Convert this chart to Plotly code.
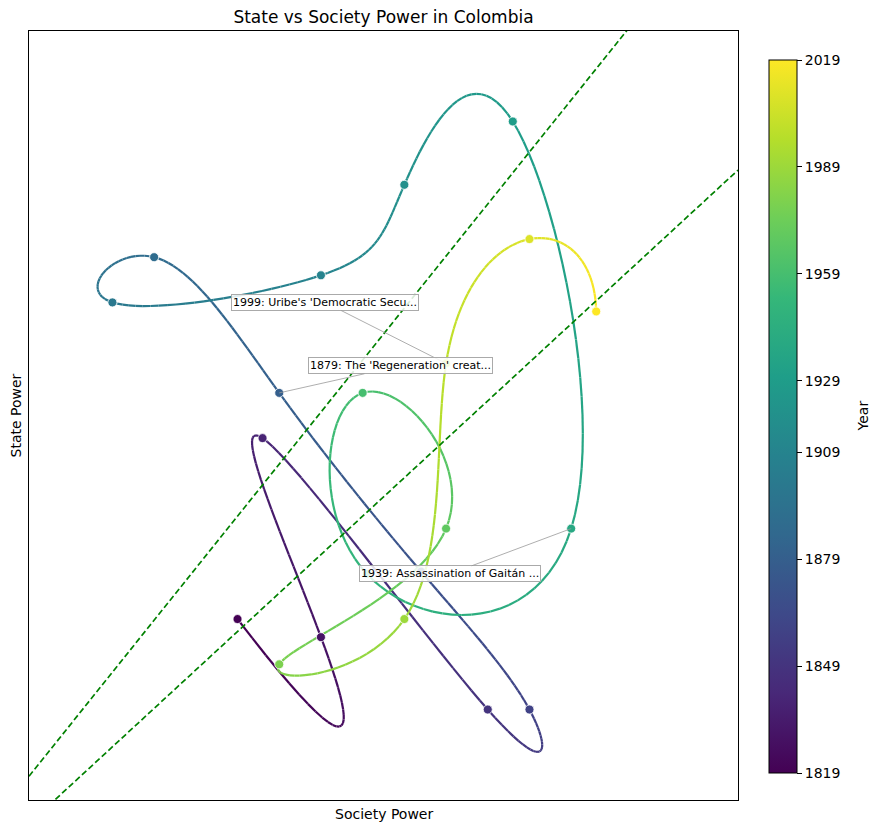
import numpy as np
import plotly.graph_objects as go
from plotly.colors import sample_colorscale

# ---- data ----
years = [1819, 1829, 1839, 1849, 1859, 1869, 1879, 1889, 1899, 1909, 1919,
         1929, 1939, 1949, 1959, 1969, 1979, 1989, 1999, 2009, 2019]
society_power = [8.5, 10.5, 9.1, 14.5, 15.5, 12.9, 9.5, 6.5, 5.5, 10.5, 12.5,
                 15.1, 16.5, 11.6, 11.5, 13.5, 9.5, 12.5, 13.5, 15.5, 17.1]
state_power = [7.5, 7.1, 11.5, 5.5, 5.5, 8.55, 12.5, 15.5, 14.5, 15.1, 17.1,
               18.5, 9.5, 8.5, 12.5, 9.5, 6.5, 7.5, 13.15, 15.9, 14.3]
event_years = [1999, 1879, 1939]
event_labels = ["1999: Uribe's 'Democratic Secu...",
                "1879: The 'Regeneration' creat...",
                "1939: Assassination of Gaitán ..."]
label_society = [10.6, 12.4, 13.6]
label_state = [14.5, 13.1, 8.5]
corridor_slopes = [1.15, 0.85]
colorbar_ticks = [1819, 1849, 1879, 1909, 1929, 1959, 1989, 2019]
axis_range = [3.5, 20.5]


def spline_eval(t, y, tq):
    """not-a-knot cubic spline through (t, y), evaluated at tq"""
    t = np.asarray(t, float)
    y = np.asarray(y, float)
    tq = np.asarray(tq, float)
    n = len(t)
    h = np.diff(t)
    A = np.zeros((n, n))
    r = np.zeros(n)
    A[0, 0], A[0, 1], A[0, 2] = h[1], -(h[0] + h[1]), h[0]
    A[-1, -3], A[-1, -2], A[-1, -1] = h[-1], -(h[-2] + h[-1]), h[-2]
    for i in range(1, n - 1):
        A[i, i - 1] = h[i - 1]
        A[i, i] = 2 * (h[i - 1] + h[i])
        A[i, i + 1] = h[i]
        r[i] = 6 * ((y[i + 1] - y[i]) / h[i] - (y[i] - y[i - 1]) / h[i - 1])
    M = np.linalg.solve(A, r)
    idx = np.clip(np.searchsorted(t, tq, side="right") - 1, 0, n - 2)
    t0, t1 = t[idx], t[idx + 1]
    hh = t1 - t0
    a = t1 - tq
    b = tq - t0
    return ((M[idx] * a ** 3 + M[idx + 1] * b ** 3) / (6 * hh)
            + (y[idx] / hh - M[idx] * hh / 6) * a
            + (y[idx + 1] / hh - M[idx + 1] * hh / 6) * b)


ymin, ymax = years[0], years[-1]
tt = np.linspace(ymin, ymax, 501)
cx = spline_eval(years, society_power, tt)
cy = spline_eval(years, state_power, tt)
tmid = (tt[:-1] + tt[1:]) / 2
seg_colors = sample_colorscale("Viridis", list((tmid - ymin) / (ymax - ymin)))

fig = go.Figure()
for i in range(len(tt) - 1):
    fig.add_trace(go.Scatter(x=[cx[i], cx[i + 1]], y=[cy[i], cy[i + 1]],
                             mode="lines", line=dict(color=seg_colors[i], width=2.2),
                             hoverinfo="skip", showlegend=False))

# corridor lines
for s in corridor_slopes:
    fig.add_trace(go.Scatter(x=axis_range, y=[s * v for v in axis_range], mode="lines",
                             line=dict(color="#008000", width=1.7, dash="6px,3px"),
                             hoverinfo="skip", showlegend=False))

fig.add_trace(go.Scatter(
    x=society_power, y=state_power, mode="markers",
    marker=dict(size=9, color=years, colorscale="Viridis", cmin=ymin, cmax=ymax,
                line=dict(color="white", width=0.8),
                colorbar=dict(tickvals=colorbar_ticks, ticktext=[str(v) for v in colorbar_ticks],
                              ticks="outside", ticklen=5, tickcolor="black",
                              tickfont=dict(size=14, color="black"),
                              outlinewidth=1, outlinecolor="black",
                              thickness=28, thicknessmode="pixels",
                              len=713 / 769, lenmode="fraction",
                              x=(769 - 29) / 709, xanchor="left", xpad=0,
                              y=(800 - 416.5) / 769, yanchor="middle", ypad=0)),
    showlegend=False, hoverinfo="skip"))

ex = spline_eval(years, society_power, event_years)
ey = spline_eval(years, state_power, event_years)
annotations = []
for i, lab in enumerate(event_labels):
    annotations.append(dict(
        x=float(ex[i]), y=float(ey[i]), xref="x", yref="y",
        ax=label_society[i], ay=label_state[i], axref="x", ayref="y",
        text=lab, showarrow=True, arrowhead=0, arrowwidth=0.8, arrowcolor="#999999",
        font=dict(size=11, color="black", family="DejaVu Sans"),
        bgcolor="rgba(255,255,255,0.85)", bordercolor="#aaaaaa", borderwidth=1, borderpad=1))

annotations.append(dict(text="Society Power", x=0.5, y=0, xref="paper", yref="paper",
                        xanchor="center", yanchor="top", yshift=-4, showarrow=False,
                        font=dict(size=14, color="black")))
annotations.append(dict(text="State Power", x=0, y=0.5, xref="paper", yref="paper",
                        xanchor="right", yanchor="middle", xshift=-4, textangle=-90,
                        showarrow=False, font=dict(size=14, color="black")))
annotations.append(dict(text="Year", x=(862 - 29) / 709, y=(800 - 416.5) / 769,
                        xref="paper", yref="paper", xanchor="center", yanchor="middle",
                        textangle=-90, showarrow=False, font=dict(size=14, color="black")))

fig.update_layout(
    width=879, height=831,
    margin=dict(l=29, r=141, t=31, b=31),
    paper_bgcolor="white", plot_bgcolor="white",
    font=dict(family="DejaVu Sans", color="black"),
    title=dict(text="State vs Society Power in Colombia", x=(29 + 738) / 2 / 879,
               xanchor="center", y=(831 - 17) / 831, yanchor="middle",
               font=dict(size=17, color="black")),
    xaxis=dict(range=axis_range, showticklabels=False, ticks="", showgrid=False,
               zeroline=False, showline=True, mirror=True, linecolor="black", linewidth=1),
    yaxis=dict(range=axis_range, showticklabels=False, ticks="", showgrid=False,
               zeroline=False, showline=True, mirror=True, linecolor="black", linewidth=1),
    annotations=annotations,
)

fig.write_html("out.html")
